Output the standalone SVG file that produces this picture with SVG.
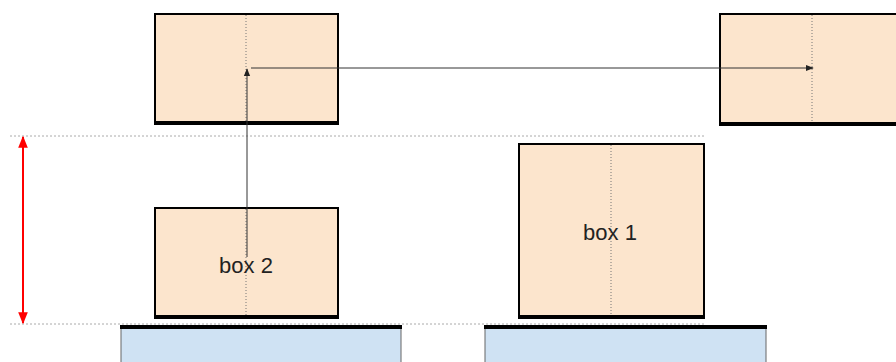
<svg xmlns="http://www.w3.org/2000/svg" width="896" height="362" viewBox="0 0 896 362">
<style>
.box{fill:#fce5cd;stroke:#000;stroke-width:2}
.base{stroke:#000;stroke-width:4}
.mid{stroke:#777;stroke-width:1;stroke-dasharray:1,2}
.guide{stroke:#aaa;stroke-width:1;stroke-dasharray:2,2}
.bar{fill:#cfe2f3;stroke:#666;stroke-width:1}
.conn{stroke:#333;stroke-width:1;fill:none}
.lbl{font-family:"Liberation Sans",Arial,sans-serif;font-size:22px;fill:#222;text-anchor:middle}
</style>
<defs>
<marker id="ah" viewBox="0 0 10 10" refX="9" refY="5" markerWidth="8" markerHeight="8" markerUnits="userSpaceOnUse" orient="auto"><path d="M0,1 L10,5 L0,9 z" fill="#222"/></marker>
<marker id="rh" viewBox="0 0 10 10" refX="9" refY="5" markerWidth="12" markerHeight="12" markerUnits="userSpaceOnUse" orient="auto-start-reverse"><path d="M0,1 L10,5 L0,9 z" fill="#f00"/></marker>
</defs>
<g id="guides">
<line class="guide" x1="10" y1="136" x2="705" y2="136"/>
<line class="guide" x1="10" y1="324" x2="705" y2="324"/>
</g>
<g id="ground1">
<rect class="bar" x="121" y="327" width="280" height="40"/>
<line class="base" x1="120" y1="327" x2="402" y2="327"/>
</g>
<g id="ground2">
<rect class="bar" x="485" y="327" width="281" height="40"/>
<line class="base" x1="484" y1="327" x2="767" y2="327"/>
</g>
<g id="box2-top">
<rect class="box" x="155" y="14" width="183" height="109"/>
<line class="base" x1="154" y1="123" x2="339" y2="123"/>
<line class="mid" x1="246" y1="15" x2="246" y2="121"/>
</g>
<g id="box1-top">
<rect class="box" x="720" y="14" width="190" height="110"/>
<line class="base" x1="719" y1="124" x2="910" y2="124"/>
<line class="mid" x1="812" y1="15" x2="812" y2="122"/>
</g>
<g id="box2">
<rect class="box" x="155" y="208" width="183" height="109"/>
<line class="base" x1="154" y1="317" x2="339" y2="317"/>
<line class="mid" x1="246" y1="209" x2="246" y2="315"/>
<text class="lbl" x="246" y="273">box 2</text>
</g>
<g id="box1">
<rect class="box" x="519" y="144" width="185" height="173"/>
<line class="base" x1="518" y1="317" x2="705" y2="317"/>
<line class="mid" x1="611" y1="145" x2="611" y2="315"/>
<text class="lbl" x="610" y="240">box 1</text>
</g>
<g id="connectors">
<line class="conn" x1="247" y1="257" x2="247" y2="69" marker-end="url(#ah)"/>
<line class="conn" x1="251" y1="68" x2="813" y2="68" marker-end="url(#ah)"/>
<line x1="23" y1="137" x2="23" y2="323" stroke="#f00" stroke-width="2" marker-start="url(#rh)" marker-end="url(#rh)"/>
</g>
</svg>
